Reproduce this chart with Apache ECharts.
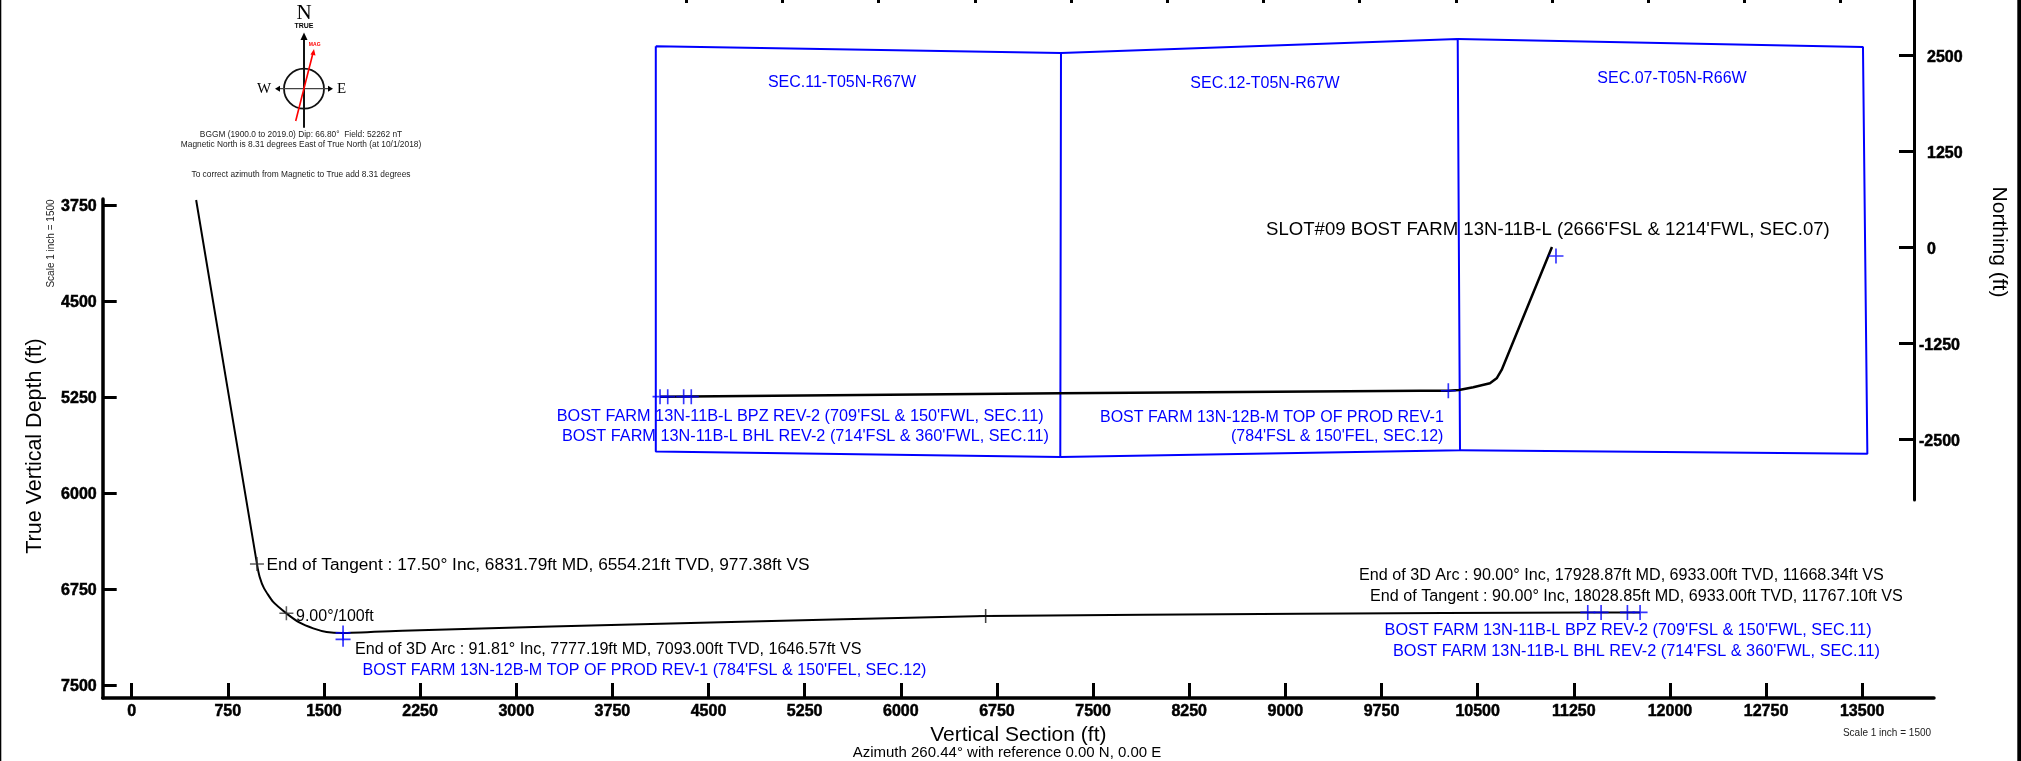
<!DOCTYPE html>
<html><head><meta charset="utf-8">
<style>html,body{margin:0;padding:0;background:#fff}#c{width:2021px;height:761px}</style>
<script src="https://cdn.jsdelivr.net/npm/echarts@6/dist/echarts.min.js"></script>
</head><body><div id="c"></div>
<script>
// ---- tick values
const vsTicks = [0,750,1500,2250,3000,3750,4500,5250,6000,6750,7500,8250,9000,9750,10500,11250,12000,12750,13500];
const tvdTicks = [3750,4500,5250,6000,6750,7500];
const northingTicks = [2500,1250,0,-1250,-2500];
const eastingTicks = [-11250,-10000,-8750,-7500,-6250,-5000,-3750,-2500,-1250,0,1250,2500,3750];
// ---- section view: [vertical section, TVD]
const wellSection = [[503,3713],[977.38,6554.21],[998,6654],[1033,6745],[1102,6849],[1207,6940],[1311,7013],[1416,7057],[1520,7085],[1646.57,7093],[2112,7075],[4438,7013],[6662,6961],[9118,6943],[11359,6933],[11668.34,6933],[11767.1,6933]];
const sectionTargets = [[1649,7093],[1649,7143],[11359,6933],[11463,6933],[11668.34,6933],[11767.1,6933]];
const sectionPoints = [[977.38,6554.21],[1207,6940]];
const sectionTick = [[6662,6961]];
// ---- plan view: [easting, northing]
const wellPlan = [[-11590,-1949],[-6396,-1905],[-1715,-1871],[-1347,-1871],[-1208,-1862],[-1023,-1827],[-806,-1775],[-719,-1710],[-654,-1601],[0,0]];
const planTargets = [[-11590,-1949],[-11490,-1949],[-11283,-1949],[-11184,-1949],[-1347,-1871],[52,-117]];
const section11 = [[-11645,2613],[-6380,2526],[-6389,-2734],[-11645,-2663],[-11645,2613]];
const section12 = [[-6380,2526],[-1225,2708],[-1195,-2647],[-6389,-2734]];
const section07 = [[-1225,2708],[4041,2604],[4098,-2691],[-1195,-2647]];
// ---- texts
const sectionNames = ['SEC.11-T05N-R67W','SEC.12-T05N-R67W','SEC.07-T05N-R66W'];
const blueNotes = [
 "BOST FARM 13N-11B-L BPZ REV-2 (709'FSL & 150'FWL, SEC.11)",
 "BOST FARM 13N-11B-L BHL REV-2 (714'FSL & 360'FWL, SEC.11)",
 "BOST FARM 13N-12B-M TOP OF PROD REV-1",
 "(784'FSL & 150'FEL, SEC.12)",
 "BOST FARM 13N-12B-M TOP OF PROD REV-1 (784'FSL & 150'FEL, SEC.12)",
 "BOST FARM 13N-11B-L BPZ REV-2 (709'FSL & 150'FWL, SEC.11)",
 "BOST FARM 13N-11B-L BHL REV-2 (714'FSL & 360'FWL, SEC.11)"];
const blackNotes = [
 "End of Tangent : 17.50° Inc, 6831.79ft MD, 6554.21ft TVD, 977.38ft VS",
 "9.00°/100ft",
 "End of 3D Arc : 91.81° Inc, 7777.19ft MD, 7093.00ft TVD, 1646.57ft VS",
 "End of 3D Arc : 90.00° Inc, 17928.87ft MD, 6933.00ft TVD, 11668.34ft VS",
 "End of Tangent : 90.00° Inc, 18028.85ft MD, 6933.00ft TVD, 11767.10ft VS"];
const slotNote = "SLOT#09 BOST FARM 13N-11B-L (2666'FSL & 1214'FWL, SEC.07)";
const compassNotes = ["BGGM (1900.0 to 2019.0) Dip: 66.80°  Field: 52262 nT","Magnetic North is 8.31 degrees East of True North (at 10/1/2018)","To correct azimuth from Magnetic to True add 8.31 degrees"];
const azimuthNote = "Azimuth 260.44° with reference 0.00 N, 0.00 E";
const scaleNote = "Scale 1 inch = 1500";

// ---- layout
const FONT = '"Liberation Sans", Arial, sans-serif';
const sectionNamePos = [[842,82.5],[1265,83.5],[1672,78.5]];
const blueNotePos = [[556.7,417],[562,436.5],[1100,418],[1231,436.5],[362.5,670.8],[1384.6,631],[1392.9,652]];
const blueNoteSize = [16.25,16.25,16,16,16.1,16.25,16.25];
const blackNotePos = [[266.5,565],[296,617],[355,650],[1359,576],[1370,597]];
const blackNoteSize = [17.3,16,16.1,16.15,16.15];
const CROSS = 'path://M8.9,0H11.1V8.9H20V11.1H11.1V20H8.9V11.1H0V8.9H8.9Z';

function txt(text,x,y,size,color,extra){
  return {type:'text',silent:true,x:x,y:y,rotation:(extra&&extra.rot)||0,z:20,
    style:Object.assign({text:text,fill:color||'#000',font:(extra&&extra.weight||'normal')+' '+size+'px '+((extra&&extra.family)||FONT),
      align:(extra&&extra.align)||'left',verticalAlign:'middle'})};
}
function seg(x1,y1,x2,y2,color,w){
  return {type:'line',silent:true,z:19,shape:{x1,y1,x2,y2},style:{stroke:color,lineWidth:w}};
}
function tri(pts,color){
  return {type:'polygon',silent:true,z:19,shape:{points:pts},style:{fill:color}};
}
const graphics = [
  {type:'rect',silent:true,shape:{x:0,y:0,width:1.3,height:761},style:{fill:'#000'},z:21},
  {type:'rect',silent:true,shape:{x:2017.3,y:0,width:4,height:761},style:{fill:'#000'},z:21},
  txt(scaleNote,51,243.5,10,'#222',{rot:Math.PI/2,align:'center'}),
  txt(scaleNote,1887,733,10,'#222',{align:'center'}),
  txt(azimuthNote,1007,752.5,15,'#000',{align:'center'}),
  txt(slotNote,1266,229.5,18.6),
  // compass
  txt('N',304,13,21,'#000',{align:'center',family:'"Liberation Serif",serif'}),
  txt('TRUE',304,26,7,'#000',{align:'center',weight:'bold'}),
  seg(304,38,304,127.7,'#111',2),
  tri([[304,32.5],[300.5,40],[307.5,40]],'#000'),
  {type:'circle',silent:true,z:19,shape:{cx:304,cy:88.7,r:20},style:{fill:'none',stroke:'#111',lineWidth:1.8}},
  seg(278,88.7,330,88.7,'#444',1.2),
  tri([[275,88.7],[280,85.7],[280,91.7]],'#000'),
  tri([[333,88.7],[328,85.7],[328,91.7]],'#000'),
  txt('W',264,88.7,15,'#000',{align:'center',family:'"Liberation Serif",serif'}),
  txt('E',341.7,88.7,15,'#000',{align:'center',family:'"Liberation Serif",serif'}),
  seg(295.7,121,313,53,'#f00',1.6),
  tri([[314,49],[310.5,54.5],[315.5,55.5]],'#f00'),
  txt('MAG',314.7,44.3,5,'#f00',{align:'center',weight:'bold'}),
  txt(compassNotes[0],301,135,8.35,'#222',{align:'center'}),
  txt(compassNotes[1],301,145,8.35,'#222',{align:'center'}),
  txt(compassNotes[2],301,174.3,8.35,'#222',{align:'center'})
];
sectionNames.forEach((s,i)=>graphics.push(txt(s,sectionNamePos[i][0],sectionNamePos[i][1],16,'#0000ff',{align:'center'})));
blueNotes.forEach((s,i)=>graphics.push(txt(s,blueNotePos[i][0],blueNotePos[i][1],blueNoteSize[i],'#0000ff')));
blackNotes.forEach((s,i)=>graphics.push(txt(s,blackNotePos[i][0],blackNotePos[i][1],blackNoteSize[i],'#000')));

const tickFont = {fontFamily:FONT,fontWeight:'bold',fontSize:16,color:'#000',textBorderColor:'#000',textBorderWidth:0.5};
const nameFont = {fontFamily:FONT,fontSize:21,color:'#000'};
const thick = w=>({lineStyle:{color:'#000',width:w}});
function blueLine(name,data){return {type:'line',name,xAxisIndex:1,yAxisIndex:1,data,symbol:'none',silent:true,clip:false,z:3,lineStyle:{color:'#0000ff',width:2}};}
function marks(xi,data,color,size,z){return {type:'scatter',xAxisIndex:xi,yAxisIndex:xi,data,symbol:CROSS,symbolSize:size,silent:true,clip:false,z:z||6,itemStyle:{color}};}

const option = {
  animation:false,backgroundColor:'#fff',
  grid:[
    {left:102.7,right:87,top:199,bottom:63},
    {left:600,right:107,top:0,bottom:261}
  ],
  xAxis:[
    {gridIndex:0,type:'value',position:'bottom',min:-226,max:14060,splitLine:{show:false},
     axisLine:Object.assign({show:true,onZero:false},thick(3.5)),
     axisTick:Object.assign({show:true,inside:true,length:15,customValues:vsTicks},thick(3)),
     axisLabel:Object.assign({customValues:vsTicks,margin:6,formatter:v=>String(v)},tickFont),
     name:'Vertical Section (ft)',nameLocation:'middle',nameGap:23,nameTextStyle:nameFont},
    {gridIndex:1,type:'value',position:'top',min:-12370,max:4704,splitLine:{show:false},
     axisLine:{show:false,onZero:false},
     axisTick:Object.assign({show:true,inside:true,length:3,customValues:eastingTicks},thick(3)),
     axisLabel:{show:false}}
  ],
  yAxis:[
    {gridIndex:0,type:'value',position:'left',inverse:true,min:3705,max:7601,splitLine:{show:false},
     axisLine:Object.assign({show:true,onZero:false},thick(3.5)),
     axisTick:Object.assign({show:true,inside:true,length:14,customValues:tvdTicks},thick(3)),
     axisLabel:Object.assign({customValues:tvdTicks,margin:6,verticalAlign:'top',lineHeight:3,formatter:v=>String(v)},tickFont),
     name:'True Vertical Depth (ft)',nameLocation:'middle',nameGap:57,nameTextStyle:{padding:[0,0,0,5],fontFamily:FONT,fontSize:21.5,color:'#000'}},
    {gridIndex:1,type:'value',position:'right',min:-3294,max:3216,splitLine:{show:false},
     axisLine:Object.assign({show:true,onZero:false},thick(3)),
     axisTick:Object.assign({show:true,inside:true,length:15,customValues:northingTicks},thick(3)),
     axisLabel:Object.assign({customValues:northingTicks,margin:5,align:'left',verticalAlign:'top',lineHeight:5,
        formatter:v=>v<0?String(v):'\u2002'+v},tickFont),
     name:'Northing (ft)',nameLocation:'middle',nameGap:74,nameRotate:-90,nameTextStyle:Object.assign({padding:[0,16,0,0]},nameFont)}
  ],
  series:[
    blueLine('SEC.11',section11),blueLine('SEC.12',section12),blueLine('SEC.07',section07),
    marks(1,planTargets,'#0000ff',[15,15]),
    {type:'line',name:'Plan',xAxisIndex:1,yAxisIndex:1,data:wellPlan,symbol:'none',silent:true,clip:false,z:5,lineStyle:{color:'#000',width:2.5}},
    marks(0,sectionTargets,'#0000ff',[15,15]),
    marks(0,sectionPoints,'#333',[14,14]),
    marks(0,sectionTick,'#111',[14,14]),
    {type:'line',name:'Section',xAxisIndex:0,yAxisIndex:0,data:wellSection,symbol:'none',silent:true,clip:false,z:5,smooth:0.15,lineStyle:{color:'#000',width:2}}
  ],
  graphic:graphics
};
echarts.init(document.getElementById('c'),null,{renderer:'canvas'}).setOption(option);
</script></body></html>
